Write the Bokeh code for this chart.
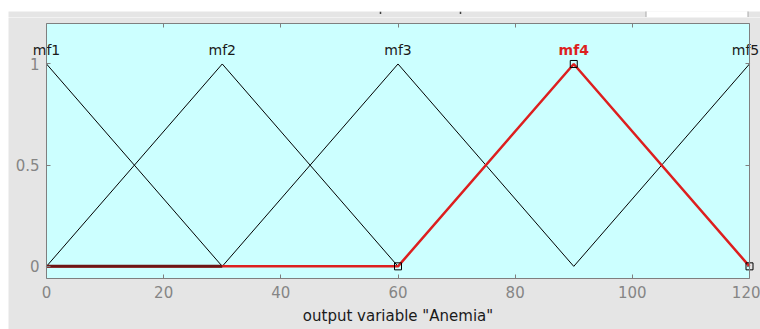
from bokeh.plotting import figure
from bokeh.layouts import column, row
from bokeh.models import Range1d, LinearAxis, FixedTicker, Spacer
from bokeh.core.properties import value
from bokeh.embed import file_html
from bokeh.resources import INLINE

# ---- data ----
mf_names = ["mf1", "mf2", "mf3", "mf4", "mf5"]
mf_a = [-30, 0, 30, 60, 90]
mf_b = [0, 30, 60, 90, 120]
mf_c = [30, 60, 90, 120, 150]
selected = 3
x_min, x_max = 0, 120
y_min, y_max = -0.06, 1.2
x_ticks = [0, 20, 40, 60, 80, 100, 120]
y_ticks = [0, 0.5, 1]
y_tick_labels = ["0", "0.5", "1"]
zero_dark = [0, 30]
label_y = 1.07
x_label = 'output variable "Anemia"'

# ---- style / layout constants ----
FONT = "DejaVu Sans"
GRAY = "#7f7f7f"
BG = "#e5e5e5"
RED = "#dd1f1f"
CYAN = "#ccffff"
W, H = 752, 312           # main canvas size
AX_L, AX_R = 38, 741      # plot area left/right in canvas px
AX_T, AX_B = 6, 261       # plot area top/bottom in canvas px
EDGE_SHIFT = -4           # keep the last label inside the canvas

sx_px = (AX_R - AX_L) / (x_max - x_min)
sy_px = (AX_B - AX_T) / (y_max - y_min)
xr = Range1d(x_min - AX_L / sx_px, x_max + (W - AX_R) / sx_px)
yr = Range1d(y_min - (H - AX_B) / sy_px, y_max + AX_T / sy_px)

# ---- top strip (window chrome above the axes) ----
strip = figure(width=752, height=9, x_range=Range1d(8, 760), y_range=Range1d(0, 9),
               output_backend="svg", toolbar_location=None,
               min_border_left=0, min_border_right=0, min_border_top=0, min_border_bottom=0)
strip.axis.visible = False
strip.grid.visible = False
strip.outline_line_color = None
strip.background_fill_color = BG
strip.border_fill_color = BG
strip.quad(left=[645.5], right=[747.5], top=[12], bottom=[0.5], fill_color="white",
           line_color="#a8a8a8", line_width=1)
strip.segment(x0=[380, 460], y0=[9, 9], x1=[380, 460], y1=[6.5, 6.5], line_color="#404040", line_width=1.5)

# ---- main axes ----
p = figure(width=W, height=H, x_range=xr, y_range=yr,
           output_backend="svg", toolbar_location=None,
           min_border_left=0, min_border_right=0, min_border_top=0, min_border_bottom=0)
p.background_fill_color = BG
p.border_fill_color = BG
p.outline_line_color = None
p.xgrid.visible = False
p.ygrid.visible = False

# plot area background
p.quad(left=[x_min], right=[x_max], bottom=[y_min], top=[y_max], fill_color=CYAN, line_color=None)


def clip_tri(a, b, c):
    pts = [(a, 0.0), (b, 1.0), (c, 0.0)]
    xs, ys = [], []
    for (x0, y0), (x1, y1) in zip(pts[:-1], pts[1:]):
        lo, hi = max(x0, x_min), min(x1, x_max)
        if lo > hi:
            continue
        f = lambda x: y0 + (y1 - y0) * (x - x0) / (x1 - x0)
        if not xs or xs[-1] != lo:
            xs.append(lo); ys.append(f(lo))
        xs.append(hi); ys.append(f(hi))
    return xs, ys


bx, by = [], []
for i in range(len(mf_names)):
    if i == selected:
        continue
    xs, ys = clip_tri(mf_a[i], mf_b[i], mf_c[i])
    bx.append(xs); by.append(ys)
p.multi_line(bx, by, line_color="black", line_width=1)

sx, sy = clip_tri(mf_a[selected], mf_b[selected], mf_c[selected])
p.line([x_min] + sx, [0] + sy, line_color=RED, line_width=2.5)
p.line(zero_dark, [0, 0], line_color="#6e1414", line_width=3)
p.scatter(sx, sy, marker="square", size=7, fill_color=None, line_color="black", line_width=1)

# membership function names (selected one in bold red)
others = [i for i in range(len(mf_names)) if i != selected]
p.text(x=[mf_b[i] for i in others], y=[label_y] * len(others), text=[mf_names[i] for i in others],
       x_offset=[EDGE_SHIFT if mf_b[i] >= x_max else 0 for i in others],
       text_color="#1a1a1a", text_align="center", text_baseline="alphabetic",
       text_font=value(FONT), text_font_size="14px")
p.text(x=[mf_b[selected]], y=[label_y], text=[mf_names[selected]],
       text_color=RED, text_align="center", text_baseline="alphabetic",
       text_font=value(FONT), text_font_size="14px", text_font_style="bold")


def style_axis(ax):
    ax.major_tick_in = 4
    ax.major_tick_out = 0
    ax.minor_tick_line_color = None
    ax.axis_line_color = GRAY
    ax.major_tick_line_color = GRAY
    ax.major_label_text_font = FONT
    ax.major_label_text_font_size = "15px"
    ax.major_label_text_color = "#858585"


xa = p.xaxis[0]
ya = p.yaxis[0]
style_axis(xa); style_axis(ya)
xa.fixed_location = y_min
xa.bounds = (x_min, x_max)
ya.fixed_location = x_min
ya.bounds = (y_min, y_max)
xa.ticker = FixedTicker(ticks=x_ticks)
ya.ticker = FixedTicker(ticks=y_ticks)
ya.major_label_overrides = dict(zip(y_ticks, y_tick_labels))
xa.major_label_standoff = 7
ya.major_label_standoff = 7
xa.axis_label = x_label
xa.axis_label_text_font = FONT
xa.axis_label_text_font_size = "15px"
xa.axis_label_text_font_style = "normal"
xa.axis_label_text_color = "#1a1a1a"
xa.axis_label_standoff = 6

top = LinearAxis(ticker=FixedTicker(ticks=x_ticks), fixed_location=y_max, bounds=(x_min, x_max))
right = LinearAxis(ticker=FixedTicker(ticks=y_ticks), fixed_location=x_max, bounds=(y_min, y_max))
for ax in [top, right]:
    style_axis(ax)
    ax.major_label_text_color = None
p.add_layout(top, "above")
p.add_layout(right, "right")

layout = column(Spacer(height=8, width=760),
                row(Spacer(width=8, height=321), column(strip, p, spacing=0), spacing=0),
                spacing=0)

open("out.html", "w").write(file_html(layout, INLINE))
